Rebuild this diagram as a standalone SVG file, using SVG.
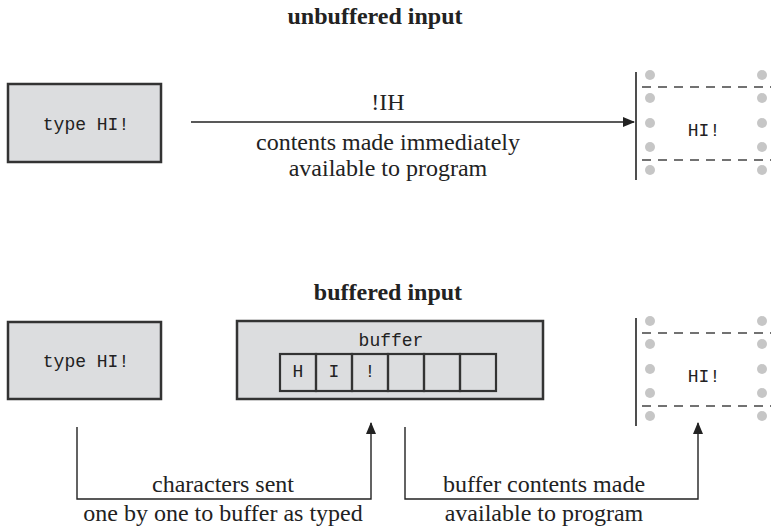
<svg xmlns="http://www.w3.org/2000/svg" width="771" height="528" viewBox="0 0 771 528">
<defs>
<style>
.title{font-family:"Liberation Serif","Times New Roman",serif;font-weight:bold;font-size:24px;fill:#222;text-anchor:middle}
.lbl{font-family:"Liberation Serif","Times New Roman",serif;font-size:24px;fill:#222;text-anchor:middle}
.mono{font-family:"Liberation Mono","Courier New",monospace;font-size:18px;fill:#222;text-anchor:middle}
.box{fill:#dcdddf;stroke:#333;stroke-width:2.5}
.cell{fill:none;stroke:#333;stroke-width:2.2}
.line{fill:none;stroke:#222;stroke-width:1.4}
.edge{fill:none;stroke:#222;stroke-width:1.6}
.dash{fill:none;stroke:#444;stroke-width:1.4;stroke-dasharray:9 7}
.dot{fill:#c6c6c6}
</style>
<marker id="arr" viewBox="0 0 12 10" refX="11" refY="5" markerWidth="12" markerHeight="10" markerUnits="userSpaceOnUse" orient="auto">
<path d="M0,0 L12,5 L0,10 Z" fill="#222"/>
</marker>
<g id="strip">
<line class="edge" x1="0" y1="0" x2="0" y2="108"/>
<line class="dash" x1="6" y1="15" x2="771" y2="15"/>
<line class="dash" x1="6" y1="88" x2="771" y2="88"/>
<circle class="dot" cx="14" cy="3" r="5"/>
<circle class="dot" cx="14" cy="26" r="5"/>
<circle class="dot" cx="14" cy="51" r="5"/>
<circle class="dot" cx="14" cy="75" r="5"/>
<circle class="dot" cx="14" cy="98" r="5"/>
<circle class="dot" cx="126" cy="3" r="5"/>
<circle class="dot" cx="126" cy="26" r="5"/>
<circle class="dot" cx="126" cy="51" r="5"/>
<circle class="dot" cx="126" cy="75" r="5"/>
<circle class="dot" cx="126" cy="98" r="5"/>
</g>
</defs>
<rect width="771" height="528" fill="#fff"/>

<text class="title" x="375" y="24">unbuffered input</text>
<text class="title" x="388" y="300">buffered input</text>

<g id="type-top">
<rect class="box" x="8" y="84" width="153" height="78"/>
<text class="mono" x="86" y="130">type HI!</text>
</g>

<g id="program-top">
<use href="#strip" x="636" y="72"/>
<text class="mono" x="704" y="136">HI!</text>
</g>

<g id="type-bottom">
<rect class="box" x="8" y="322" width="153" height="77"/>
<text class="mono" x="86" y="367">type HI!</text>
</g>

<g id="buffer">
<rect class="box" x="237" y="321" width="306" height="78"/>
<text class="mono" x="391" y="346">buffer</text>
<rect class="cell" x="280" y="354" width="36" height="37"/>
<rect class="cell" x="316" y="354" width="36" height="37"/>
<rect class="cell" x="352" y="354" width="36" height="37"/>
<rect class="cell" x="388" y="354" width="36" height="37"/>
<rect class="cell" x="424" y="354" width="36" height="37"/>
<rect class="cell" x="460" y="354" width="36" height="37"/>
<text class="mono" x="298" y="377">H</text>
<text class="mono" x="334" y="377">I</text>
<text class="mono" x="370" y="377">!</text>
</g>

<g id="program-bottom">
<use href="#strip" x="636" y="318"/>
<text class="mono" x="704" y="382">HI!</text>
</g>

<g id="connectors">
<line class="line" x1="191" y1="122" x2="634" y2="122" marker-end="url(#arr)"/>
<text class="lbl" x="388" y="110">!IH</text>
<text class="lbl" x="388" y="150">contents made immediately</text>
<text class="lbl" x="388" y="176">available to program</text>

<polyline class="line" points="77,427 77,499 371,499 371,423" marker-end="url(#arr)"/>
<text class="lbl" x="223" y="492">characters sent</text>
<text class="lbl" x="223" y="521">one by one to buffer as typed</text>

<polyline class="line" points="405,427 405,499 698,499 698,423" marker-end="url(#arr)"/>
<text class="lbl" x="544" y="492">buffer contents made</text>
<text class="lbl" x="544" y="521">available to program</text>
</g>
</svg>
